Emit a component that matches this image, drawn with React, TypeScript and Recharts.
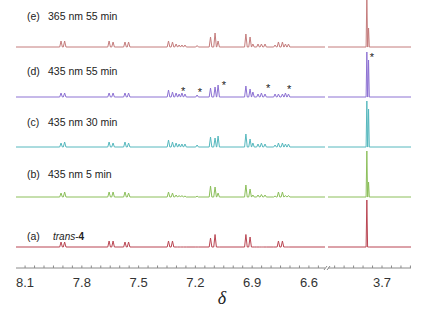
import React from "react";
import { LineChart, Line, XAxis, YAxis, ReferenceDot } from "recharts";

// peak positions (ppm), aromatic region
const aromaticPpm = [
  7.91, 7.891, 7.656, 7.635, 7.572, 7.553, 7.342, 7.321, 7.302, 7.286, 7.271, 7.255, 7.191, 7.12,
  7.096, 7.08, 6.933, 6.911, 6.896, 6.869, 6.851, 6.832, 6.779, 6.761, 6.74, 6.724, 6.708,
];
// peak heights per spectrum (a.u.)
const aromaticA = [5, 5, 6, 6, 5, 5, 6, 6, 0, 0, 0, 0, 0, 9, 12.5, 0, 12.5, 10, 0, 0, 0, 0, 0, 6, 6, 0, 0];
const aromaticB = [4, 5, 5, 5, 5, 4, 5, 4, 2, 1.5, 1.5, 1, 0.8, 11, 10, 4, 12, 8, 2, 2, 2.5, 2, 1, 5, 5, 1.5, 1.5];
const aromaticC = [4, 5, 5, 4, 5, 4, 7, 5, 4, 3, 3, 3, 2, 10, 9, 11, 13, 8, 4, 3, 4, 3, 2, 4, 4, 3, 3];
const aromaticD = [4, 4, 4, 4, 4, 4, 7, 5, 4, 3, 4, 3, 2, 9, 10, 12, 11, 8, 5, 3, 4, 3, 3, 3, 3, 4, 3];
const aromaticE = [6, 6, 6, 5, 5, 5, 6, 5, 3, 2, 2, 2, 1.5, 10, 14, 6, 13, 10, 3, 3, 3, 3, 2, 5, 5, 3, 3];

// OMe region
const methoxyPpm = [3.78, 3.771];
const methoxyA = [47, 0];
const methoxyB = [46, 15];
const methoxyC = [46, 38];
const methoxyD = [45, 37];
const methoxyE = [52, 19];

// cis peaks marked with * in (d)
const starPpm = [7.265, 7.176, 7.049, 6.816, 6.705];
const starLevel = [8, 7, 14, 11, 10];
const starPpmOMe = [3.753];
const starLevelOMe = [42];

const traceKeys = ["e", "d", "c", "b", "a"];
const traceTags = ["(e)", "(d)", "(c)", "(b)", "(a)"];
const traceNotes = ["365 nm 55 min", "435 nm 55 min", "435 nm 30 min", "435 nm 5 min", ""];

const leftLabels = [8.1, 7.8, 7.5, 7.2, 6.9, 6.6];
const rightLabels = [3.7];
const leftTicks = Array.from({ length: 32 }, (_, i) => +(8.1 - 0.05 * i).toFixed(2));
const rightTicks = Array.from({ length: 9 }, (_, i) => +(3.95 - 0.05 * i).toFixed(2));

const LEFT_DOMAIN: [number, number] = [6.515, 8.148];
const RIGHT_DOMAIN: [number, number] = [3.547, 3.985];

const PLOT_H = 268;
const BASE_Y: Record<string, number> = { e: 47, d: 97, c: 147, b: 197, a: 247 };
const LABEL_Y: Record<string, number> = { e: 16, d: 71, c: 122, b: 174, a: 236 };
const COLORS: Record<string, string> = {
  e: "#c47c7c",
  d: "#8d72d3",
  c: "#56b8be",
  b: "#8cbf5b",
  a: "#b94552",
};

type Row = Record<string, number>;

const buildTable = (
  ppm: number[],
  series: Record<string, number[]>,
  domain: [number, number],
  half: number
) => {
  const zero = (x: number) => {
    const r: Row = { x };
    traceKeys.forEach((k) => (r[k] = 0));
    return r;
  };
  const rows: Row[] = [zero(domain[1])];
  ppm.forEach((p, i) => {
    rows.push(zero(p + half));
    const peak: Row = { x: p };
    traceKeys.forEach((k) => (peak[k] = series[k][i]));
    rows.push(peak);
    rows.push(zero(p - half));
  });
  rows.push(zero(domain[0]));
  return rows;
};

const leftData = buildTable(
  aromaticPpm,
  { a: aromaticA, b: aromaticB, c: aromaticC, d: aromaticD, e: aromaticE },
  LEFT_DOMAIN,
  0.007
);
const rightData = buildTable(
  methoxyPpm,
  { a: methoxyA, b: methoxyB, c: methoxyC, d: methoxyD, e: methoxyE },
  RIGHT_DOMAIN,
  0.004
);

const PpmTick = (props: any) => {
  const { x, y, payload, labels } = props;
  const isMajor = labels.some((m: number) => Math.abs(m - payload.value) < 1e-6);
  return (
    <g>
      <line x1={x} x2={x} y1={y} y2={y - 2.5} stroke="#8a8a8a" strokeWidth={1} />
      {isMajor && (
        <text
          x={x}
          y={y + 18.5}
          textAnchor="middle"
          fontSize={13}
          fontFamily="'Liberation Sans', Arial, sans-serif"
          fill="#333"
        >
          {payload.value.toFixed(1)}
        </text>
      )}
    </g>
  );
};

const Star = (props: any) => (
  <text
    x={props.cx}
    y={props.cy + 6}
    textAnchor="middle"
    fontSize={11}
    fontFamily="'Liberation Sans', Arial, sans-serif"
    fill="#222"
  >
    *
  </text>
);

const Segment = ({
  data,
  domain,
  ticks,
  labels,
  stars,
  levels,
  width,
  margin,
}: {
  data: Row[];
  domain: [number, number];
  ticks: number[];
  labels: number[];
  stars: number[];
  levels: number[];
  width: number;
  margin: { top: number; right: number; bottom: number; left: number };
}) => (
  <LineChart width={width} height={300} data={data} margin={margin}>
    <XAxis
      dataKey="x"
      type="number"
      domain={domain}
      reversed
      allowDataOverflow
      ticks={ticks}
      interval={0}
      tickLine={false}
      tickSize={0}
      tickMargin={0}
      axisLine={{ stroke: "#8a8a8a" }}
      height={32}
      tick={<PpmTick labels={labels} />}
    />
    {traceKeys.map((k) => (
      <YAxis
        key={k}
        yAxisId={k}
        hide
        type="number"
        allowDataOverflow
        domain={[BASE_Y[k] - PLOT_H, BASE_Y[k]]}
      />
    ))}
    {traceKeys.map((k) => (
      <Line
        key={k}
        yAxisId={k}
        dataKey={k}
        type="linear"
        stroke={COLORS[k]}
        strokeWidth={1}
        dot={false}
        activeDot={false}
        isAnimationActive={false}
      />
    ))}
    {stars.map((p, i) => (
      <ReferenceDot key={p} x={p} y={levels[i]} yAxisId="d" r={0} shape={Star} ifOverflow="visible" />
    ))}
  </LineChart>
);

export default function App() {
  return (
    <div style={{ position: "absolute", left: 0, top: 0, width: 436, height: 312, background: "#fff" }}>
      <div style={{ position: "absolute", left: 0, top: 0 }}>
        <Segment
          data={leftData}
          domain={LEFT_DOMAIN}
          ticks={leftTicks}
          labels={leftLabels}
          stars={starPpm}
          levels={starLevel}
          width={330}
          margin={{ top: 0, right: 5, bottom: 0, left: 16 }}
        />
      </div>
      <div style={{ position: "absolute", left: 320, top: 0 }}>
        <Segment
          data={rightData}
          domain={RIGHT_DOMAIN}
          ticks={rightTicks}
          labels={rightLabels}
          stars={starPpmOMe}
          levels={starLevelOMe}
          width={116}
          margin={{ top: 0, right: 25, bottom: 0, left: 8 }}
        />
      </div>
      <svg
        width={436}
        height={312}
        style={{ position: "absolute", left: 0, top: 0, pointerEvents: "none" }}
        fontFamily="'Liberation Sans', Arial, sans-serif"
      >
        {traceKeys.map((k, i) => (
          <g key={k}>
            <text x={27} y={LABEL_Y[k]} dominantBaseline="central" fontSize={10.5} fill="#222">
              {traceTags[i]}
            </text>
            {traceNotes[i] && (
              <text x={48} y={LABEL_Y[k]} dominantBaseline="central" fontSize={10.5} fill="#222">
                {traceNotes[i]}
              </text>
            )}
          </g>
        ))}
        <text x={53} y={LABEL_Y.a} dominantBaseline="central" fontSize={10} fill="#222">
          <tspan fontStyle="italic">trans</tspan>
          <tspan>-</tspan>
          <tspan fontWeight="bold">4</tspan>
        </text>
        <line x1={324} y1={270} x2={327} y2={266} stroke="#8a8a8a" strokeWidth={1} />
        <line x1={327} y1={270} x2={330} y2={266} stroke="#8a8a8a" strokeWidth={1} />
        <text
          x={222}
          y={304}
          textAnchor="middle"
          fontSize={18}
          fontStyle="italic"
          fontFamily="'Liberation Serif', 'DejaVu Serif', serif"
          fill="#222"
        >
          δ
        </text>
      </svg>
    </div>
  );
}
